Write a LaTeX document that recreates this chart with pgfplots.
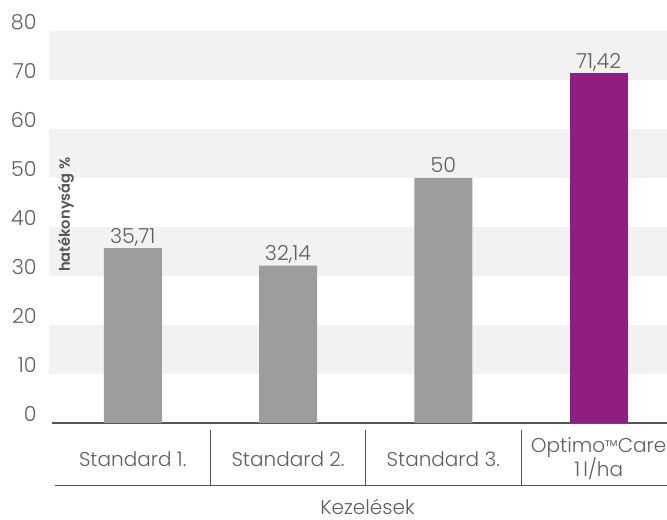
\documentclass[border=0pt]{standalone}
\usepackage{fontspec}
\IfFontExistsTF{Poppins Light}{\setmainfont{Poppins Light}[BoldFont={Poppins SemiBold}]}{\setmainfont{Poppins}}
\usepackage{pgfplots}
\pgfplotsset{compat=1.18}

\definecolor{bargray}{RGB}{157,157,156}
\definecolor{barpurple}{RGB}{142,31,128}
\definecolor{band}{RGB}{242,242,242}
\definecolor{txt}{RGB}{95,95,95}
\definecolor{axisgray}{RGB}{85,85,85}

\begin{document}
\begin{tikzpicture}
  \begin{axis}[
      at={(0pt,0pt)}, anchor=south west,
      scale only axis,
      width=461.25pt, height=294pt,
      set layers,
      xmin=-0.52, xmax=3.44,
      ymin=0, ymax=80,
      clip=false,
      axis x line*=bottom,
      axis y line*=left,
      axis line style={-, axisgray, line width=1.5pt},
      y axis line style={draw=none},
      xtick={0,1,2,3},
      xticklabels={Standard 1., Standard 2., Standard 3., {Optimo{\fontsize{12.5}{12}\selectfont ™}Care\\1\,l/ha}},
      xticklabel style={align=center, anchor=center, yshift=-27pt, font=\fontsize{15}{18}\selectfont, text=txt},
      major tick length=0pt,
      ytick={0,10,...,80},
      yticklabel style={anchor=east, xshift=-8pt, yshift=6.5pt, font=\fontsize{15.5}{18}\selectfont, text=txt},
      /pgf/number format/assume math mode=true,
      ybar, bar width=43.5pt, bar shift=0pt,
      nodes near coords,
      nodes near coords style={anchor=base, yshift=3.75pt, text=txt, font=\fontsize{15.5}{18}\selectfont,
        /pgf/number format/.cd, fixed, use comma, precision=2},
    ]
    % background bands
    \fill[band, on layer=axis background] (axis cs:-0.54,10) rectangle (axis cs:3.44,20);
    \fill[band, on layer=axis background] (axis cs:-0.54,30) rectangle (axis cs:3.44,40);
    \fill[band, on layer=axis background] (axis cs:-0.54,50) rectangle (axis cs:3.44,60);
    \fill[band, on layer=axis background] (axis cs:-0.54,70) rectangle (axis cs:3.44,80);

    \addplot[fill=bargray, draw=none] coordinates {(0,35.71) (1,32.14) (2,50)};
    \addplot[fill=barpurple, draw=none] coordinates {(3,71.42)};

    % category table lines
    \draw[axisgray, line width=0.6pt] (axis cs:0.5,-1.43) -- (axis cs:0.5,-12.65);
    \draw[axisgray, line width=0.6pt] (axis cs:1.5,-1.43) -- (axis cs:1.5,-12.65);
    \draw[axisgray, line width=0.6pt] (axis cs:2.5,-1.43) -- (axis cs:2.5,-12.65);
    \draw[axisgray, line width=0.6pt] (axis cs:-0.5,-12.65) -- (axis cs:3.44,-12.65);

    \node[rotate=90, text=axisgray, font=\bfseries\fontsize{11}{13}\selectfont]
      at (axis cs:-0.43,42.5) {hatékonyság \%};
  \end{axis}
  \node[anchor=base, inner sep=0pt, outer sep=0pt, text=txt, font=\fontsize{15}{18}\selectfont]
    at (236.6pt,-69pt) {Kezelések};
  \pgfresetboundingbox
  \path[use as bounding box] (-39pt,-72.75pt) rectangle (461.25pt,317.25pt);
\end{tikzpicture}
\end{document}
